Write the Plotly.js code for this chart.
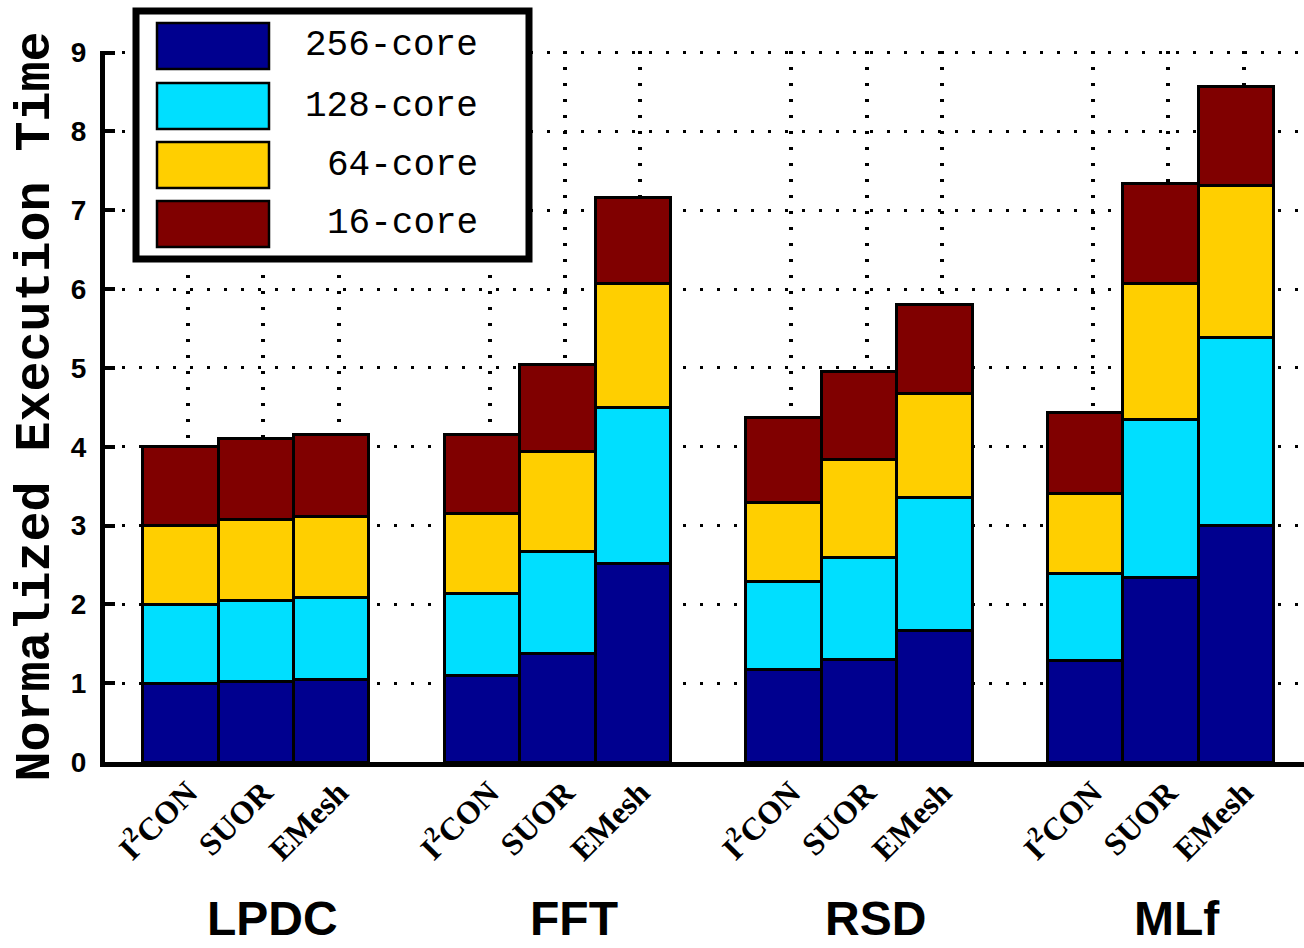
<!DOCTYPE html>
<html><head><meta charset="utf-8">
<script src="https://cdn.plot.ly/plotly-3.0.1.min.js"></script>
<style>html,body{margin:0;padding:0;background:#fff;}</style>
</head><body>
<div id="chart" style="width:1304px;height:948px;"></div>
<script>
const groups = ["LPDC", "FFT", "RSD", "MLf"];
const methods = ["I<sup>2</sup>CON", "SUOR", "EMesh"];
const seriesNames = ["256-core", "128-core", "64-core", "16-core"];
const seriesColors = ["#00008F", "#00DFFF", "#FFCF00", "#800000"];
// stacked segment heights, bars in order LPDC(I2CON,SUOR,EMesh), FFT(...), RSD(...), MLf(...)
const core256 = [1.00, 1.02, 1.05, 1.10, 1.38, 2.52, 1.17, 1.30, 1.67, 1.29, 2.34, 3.00];
const core128 = [1.00, 1.03, 1.04, 1.04, 1.29, 1.98, 1.12, 1.29, 1.69, 1.10, 2.01, 2.39];
const core64  = [1.00, 1.03, 1.02, 1.01, 1.27, 1.57, 1.00, 1.25, 1.31, 1.02, 1.72, 1.92];
const core16  = [1.00, 1.03, 1.05, 1.01, 1.10, 1.09, 1.08, 1.11, 1.13, 1.03, 1.27, 1.26];
const yTicks = [0, 1, 2, 3, 4, 5, 6, 7, 8, 9];

const seriesValues = [core256, core128, core64, core16];

// x positions: 3 bars per group, one empty slot between groups
const pos = [], tickText = [];
groups.forEach((g, gi) => methods.forEach((m, mi) => { pos.push(gi * 4 + mi + 1); tickText.push(m); }));
const tickPos = pos.map(p => p + 0.1);

const W = 1304, H = 948, ML = 105, MR = 0, MT = 51, MB = 186;
const PW = W - ML - MR, PH = H - MT - MB;
const px2x = p => (p - ML) / PW;
const px2y = p => (H - MB - p) / PH;

const traces = seriesNames.map((name, i) => ({
  type: 'bar', name: name, x: pos, y: seriesValues[i],
  width: 1, marker: { color: seriesColors[i], line: { color: '#000', width: 3 } },
  showlegend: false, hoverinfo: 'skip'
}));

const shapes = [];
const annotations = [];
// legend box
shapes.push({ type: 'rect', xref: 'paper', yref: 'paper', x0: px2x(136), x1: px2x(529), y0: px2y(259), y1: px2y(11),
  line: { color: '#000', width: 7 }, fillcolor: '#fff', layer: 'above' });
const swTop = [23, 83, 142, 201];
seriesNames.forEach((name, i) => {
  shapes.push({ type: 'rect', xref: 'paper', yref: 'paper', x0: px2x(157), x1: px2x(269), y0: px2y(swTop[i] + 46), y1: px2y(swTop[i]),
    line: { color: '#000', width: 2.5 }, fillcolor: seriesColors[i], layer: 'above' });
  annotations.push({ xref: 'paper', yref: 'paper', x: px2x(480), y: px2y(swTop[i] + 23), xanchor: 'right', yanchor: 'middle',
    text: name, showarrow: false, font: { family: 'Liberation Mono', size: 36, color: '#000' } });
});
// group labels
groups.forEach((g, gi) => {
  annotations.push({ xref: 'x', yref: 'paper', x: gi * 4 + 2 + 0.22, y: px2y(918), xanchor: 'center', yanchor: 'middle',
    text: g, showarrow: false, font: { family: 'Liberation Sans', size: 48, weight: 'bold', color: '#000' } });
});
// y title
annotations.push({ xref: 'paper', yref: 'paper', x: px2x(35), y: 0.5, xanchor: 'center', yanchor: 'middle', textangle: -90,
  text: 'Normalized Execution Time', showarrow: false, font: { family: 'Liberation Mono', size: 50, weight: 'bold', color: '#000' } });

const layout = {
  width: W, height: H, margin: { l: ML, r: MR, t: MT, b: MB },
  paper_bgcolor: '#fff', plot_bgcolor: '#fff', barmode: 'stack', bargap: 0,
  showlegend: false,
  xaxis: { range: [0, PW / 75.4], tickvals: tickPos, ticktext: tickText, tickangle: -45, zeroline: false,
    showgrid: true, gridcolor: '#000', gridwidth: 4, griddash: '3px,13px',
    showline: true, linewidth: 5, linecolor: '#000', ticks: '', ticklabelstandoff: -6,
    tickfont: { family: 'Liberation Serif', size: 32, weight: 'bold', color: '#000' } },
  yaxis: { range: [0, 9.02], tickvals: yTicks, showgrid: true, gridcolor: '#000', gridwidth: 3, griddash: '3px,14px',
    showline: true, linewidth: 5, linecolor: '#000', zeroline: false, ticks: 'inside', ticklen: 10, tickwidth: 4, tickcolor: '#000',
    ticklabelstandoff: 8, tickfont: { family: 'Liberation Sans', size: 28, weight: 'bold', color: '#000' } },
  shapes: shapes, annotations: annotations
};

Plotly.newPlot('chart', traces, layout, { displayModeBar: false, staticPlot: true });
</script>
</body></html>
